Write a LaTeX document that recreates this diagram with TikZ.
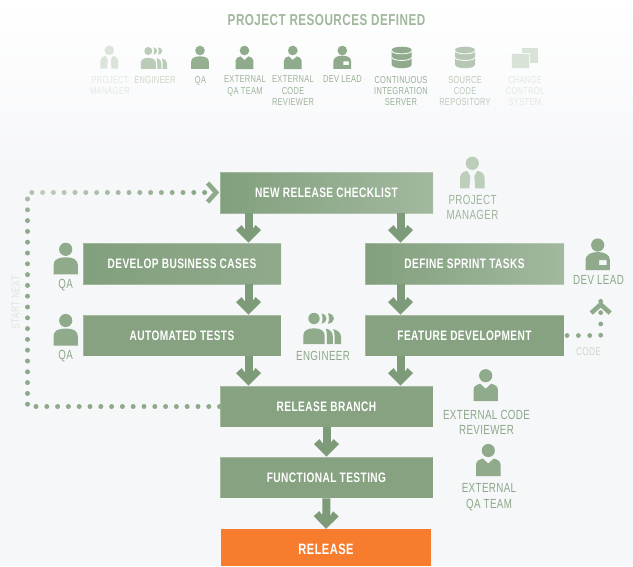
\documentclass[tikz,border=0pt]{standalone}
\usepackage{fontspec}
\setmainfont[FakeStretch=0.74,LetterSpace=3]{Liberation Sans}
\usetikzlibrary{arrows.meta,decorations.markings,calc}
\definecolor{boxg}{HTML}{86A281}
\definecolor{boxd}{HTML}{82A07D}
\definecolor{boxl}{HTML}{A2B89F}
\definecolor{arrg}{HTML}{7E9B79}
\definecolor{dotg}{HTML}{8FA98B}
\definecolor{labg}{HTML}{8DA78A}
\definecolor{icong}{HTML}{8FAB8B}
\definecolor{relo}{HTML}{F77C2D}
\definecolor{bgc}{HTML}{F6F7F9}
\pgfdeclarearrow{name=Chev,
  setup code={\pgfarrowssettipend{0pt}\pgfarrowssetlineend{-13pt}\pgfarrowssetvisualbackend{-17.5pt}\pgfarrowssetbackend{-17.5pt}},
  drawing code={
    \pgfpathmoveto{\pgfpoint{0pt}{0pt}}
    \pgfpathlineto{\pgfpoint{-12.5pt}{12.5pt}}
    \pgfpathlineto{\pgfpoint{-17.5pt}{7pt}}
    \pgfpathlineto{\pgfpoint{-13.5pt}{4pt}}
    \pgfpathlineto{\pgfpoint{-13.5pt}{-4pt}}
    \pgfpathlineto{\pgfpoint{-17.5pt}{-7pt}}
    \pgfpathlineto{\pgfpoint{-12.5pt}{-12.5pt}}
    \pgfpathclose\pgfusepathqfill}}
\pgfdeclarearrow{name=OpenChev,
  setup code={\pgfarrowssettipend{0pt}\pgfarrowssetlineend{-10pt}\pgfarrowssetvisualbackend{-12pt}\pgfarrowssetbackend{-12pt}},
  drawing code={
    \pgfsetdash{}{0pt}\pgfsetlinewidth{4.6pt}\pgfsetmiterjoin\pgfsetbuttcap
    \pgfpathmoveto{\pgfpoint{-12pt}{9.5pt}}
    \pgfpathlineto{\pgfpoint{-3.5pt}{0pt}}
    \pgfpathlineto{\pgfpoint{-12pt}{-9.5pt}}
    \pgfusepathqstroke}}
\tikzset{
  x=1pt,y=-1pt,
  flowbox/.style={minimum width=#1,minimum height=41pt,inner sep=0pt,draw=white,draw opacity=.25,line width=.8pt,text=white,font=\fontsize{13.7}{15}\selectfont\bfseries},
  flowbox/.default=198pt,
  grad/.style={shade,shading angle=#1,left color=boxd,middle color=boxg,right color=boxl},
  softgrad/.style={shade,shading angle=90,left color=boxd,right color=boxg!92!white},
  flat/.style={fill=boxg},
  flowarrow/.style={color=arrg,line width=8pt,-{Chev}},
  dotconn/.style={color=dotg,line width=.1pt,dash pattern=on 0pt off 1000pt,-{OpenChev}},
  lab/.style={align=center,text=labg,font=\fontsize{13.2}{15.5}\selectfont},
  toplab/.style={align=center,anchor=north,font=\fontsize{10.1}{11.3}\selectfont},
  sidelab/.style={font=\fontsize{11.2}{12}\selectfont},
  fadedots/.style={decoration={markings,mark=between positions 0pt and 585pt step 10.8pt with {
    \pgfkeysgetvalue{/pgf/decoration/mark info/sequence number}\sq
    \pgfmathsetmacro\mx{\sq<36?100:(\sq<40?100-(\sq-36)*10:(60+(\sq-40)*2.9))}
    \fill[dotg!\mx!white] (0,0) circle (2.5pt);}},postaction={decorate}},
  codedots/.style={decoration={markings,mark=between positions 2.7pt and 1 step 11.3pt with {\fill[dotg] (0,0) circle (2.4pt);}},postaction={decorate}},
  pics/person/.style={code={
    \fill[#1] (0,0) circle (6.6);
    \fill[#1] (-12.2,25) -- (-12.2,16) .. controls (-12.2,10) and (-7,8) .. (0,8) .. controls (7,8) and (12.2,10) .. (12.2,16) -- (12.2,25) -- cycle;}},
  pics/extperson/.style={code={
    \fill[#1] (0,0) circle (6.6);
    \fill[#1] (-12.2,25.5) -- (-12.2,14) .. controls (-12.2,10.5) and (-9,9) .. (-5.5,8) -- (0,13) -- (5.5,8) .. controls (9,9) and (12.2,10.5) .. (12.2,14) -- (12.2,25.5) -- cycle;}},
  pics/devlead/.style={code={
    \fill[#1] (0,0) circle (6.6);
    \fill[#1,even odd rule] (-12.2,25) -- (-12.2,15) .. controls (-12.2,10) and (-7,7) .. (0,7) .. controls (7,7) and (12.2,10) .. (12.2,15) -- (12.2,25) -- cycle (1.3,15) rectangle (9,20);}},
  pics/manager/.style={code={
    \fill[#1] (0,0) circle (6.6);
    \fill[#1] (-12.2,25) -- (-12.2,14) .. controls (-12.2,10) and (-8,8) .. (-5,7.5) -- (-2,13) -- (-3,25) -- cycle;
    \fill[#1] (12.2,25) -- (12.2,14) .. controls (12.2,10) and (8,8) .. (5,7.5) -- (2,13) -- (3,25) -- cycle;}},
  pics/engineer/.style={code={
    \fill[#1] (0,0) circle (5.7);
    \fill[#1] (-10.7,25.5) -- (-10.7,17) .. controls (-10.7,12) and (-6,9.8) .. (0,9.8) .. controls (6,9.8) and (10.7,12) .. (10.7,17) -- (10.7,25.5) -- cycle;
    \fill[#1] (7.6,-5.3) .. controls (10.5,-5) and (12.5,-2.5) .. (12.5,0) .. controls (12.5,2.5) and (10.5,5) .. (7.6,5.3) .. controls (8.8,2) and (8.8,-2) .. (7.6,-5.3) -- cycle;
    \fill[#1] (14,-5.3) .. controls (17.5,-5) and (20,-2.5) .. (20,0) .. controls (20,2.5) and (17.5,5) .. (14,5.3) .. controls (15.2,2) and (15.2,-2) .. (14,-5.3) -- cycle;
    \fill[#1] (11.8,10) .. controls (16,11) and (18.8,13.5) .. (18.8,18) -- (18.8,25.5) -- (12.8,25.5) -- (12.8,17) .. controls (12.8,14) and (12.5,12) .. (11.8,10) -- cycle;
    \fill[#1] (19,10.5) .. controls (24,12) and (27,14) .. (27,18.5) -- (27,25.5) -- (20.6,25.5) -- (20.6,17) .. controls (20.6,14) and (20,12) .. (19,10.5) -- cycle;}},
  pics/dbstack/.style={code={
    \fill[#1] (-10,0) .. controls (-10,-4.4) and (10,-4.4) .. (10,0) -- (10,14.5) .. controls (10,19.4) and (-10,19.4) .. (-10,14.5) -- cycle;
    \foreach \yy in {0.6,7.2}{
      \draw[bgc,line width=.9pt] (-10,\yy) .. controls (-10,\yy+4.3) and (10,\yy+4.3) .. (10,\yy);}}},
  pics/squares/.style={code={
    \fill[#1] (-3.3,-3.7) rectangle (13.3,11.3);
    \fill[bgc] (-14.3,1.3) rectangle (5.3,17);
    \fill[#1] (-13.3,2.3) rectangle (4.3,16.3);}}
}
\begin{document}
\begin{tikzpicture}
\useasboundingbox (0,0) rectangle (633,566);
\shade[top color=white,bottom color=bgc] (0,0) rectangle (633,170);
\fill[bgc] (0,170) rectangle (633,566);

\node[font=\fontsize{15.8}{17}\selectfont\bfseries,text=icong!85!white] (title) at (326.5,20) {PROJECT RESOURCES DEFINED};

% top icon row
\pic[scale=.73] at (109.3,50.3) {manager={icong!32!white}};
\pic[scale=.7] at (148.3,51) {engineer={icong!62!white}};
\pic[scale=.73] at (200,50.5) {person={icong!95!white}};
\pic[scale=.73] at (244.5,50.5) {extperson={icong}};
\pic[scale=.73] at (292.8,50.5) {extperson={icong}};
\pic[scale=.73] at (342.3,50.5) {devlead={icong}};
\pic at (401.7,50) {dbstack={icong}};
\pic at (465,50) {dbstack={icong!65!white}};
\pic at (525,52) {squares={icong!35!white}};

\node[toplab,text=labg!25!white] (t1) at (110,72.5) {PROJECT\\MANAGER};
\node[toplab,text=labg!45!white] (t2) at (155,72.5) {ENGINEER};
\node[toplab,text=labg!85!white] (t3) at (200.5,72.5) {QA};
\node[toplab,text=labg!85!white] (t4) at (245,72.5) {EXTERNAL\\QA TEAM};
\node[toplab,text=labg!85!white] (t5) at (293,72.5) {EXTERNAL\\CODE\\REVIEWER};
\node[toplab,text=labg!90!white] (t6) at (342.5,72.5) {DEV LEAD};
\node[toplab,text=labg!90!white] (t7) at (401,72.5) {CONTINUOUS\\INTEGRATION\\SERVER};
\node[toplab,text=labg!60!white] (t8) at (465,72.5) {SOURCE\\CODE\\REPOSITORY};
\node[toplab,text=labg!25!white] (t9) at (525,72.5) {CHANGE\\CONTROL\\SYSTEM};

% boxes
\node[flowbox=213pt,grad=50] (chk) at (326.5,192.5) {NEW RELEASE CHECKLIST};
\node[flowbox=198pt,softgrad] (biz) at (182,263.5) {DEVELOP BUSINESS CASES};
\node[flowbox=198pt,flat] (aut) at (182,335.5) {AUTOMATED TESTS};
\node[flowbox=199pt,grad=60] (spr) at (464.5,263.5) {DEFINE SPRINT TASKS};
\node[flowbox=199pt,flat] (fea) at (464.5,335.5) {FEATURE DEVELOPMENT};
\node[flowbox=213pt,flat] (rel) at (326.5,406.5) {RELEASE BRANCH};
\node[flowbox=213pt,flat] (fun) at (326.5,477.5) {FUNCTIONAL TESTING};
\node[minimum width=210pt,minimum height=37pt,inner sep=0pt,fill=relo,text=white,font=\fontsize{15}{17}\selectfont\bfseries] (out) at (326,547.5) {\raisebox{-6.8pt}[0pt][0pt]{RELEASE}};

% flow arrows
\draw[flowarrow] ($(chk.south west)+(29,0)$) -- ($(biz.north west)+(166,0)$);
\draw[flowarrow] ($(chk.south west)+(181,0)$) -- ($(spr.north west)+(36,0)$);
\draw[flowarrow] ($(biz.south west)+(166,0)$) -- ($(aut.north west)+(166,0)$);
\draw[flowarrow] ($(spr.south west)+(36,0)$) -- ($(fea.north west)+(36,0)$);
\draw[flowarrow] ($(aut.south west)+(166,0)$) -- ($(rel.north west)+(29,0)$);
\draw[flowarrow] ($(fea.south west)+(36,0)$) -- ($(rel.north west)+(181,0)$);
\draw[flowarrow] (rel.south) -- (fun.north);
\draw[flowarrow] (fun.south) -- (out.north);

% dotted connectors
\coordinate (corner) at (27.5,406.5);
\draw[dotconn,fadedots] (rel.west) -- (corner) |- (chk.west);
\coordinate (codeup) at (600.7,301);
\draw[dotconn,codedots] (fea.east) -- (fea.east -| codeup) -- (codeup);

% side labels
\node[sidelab,text=labg!30!white,rotate=90] (startnext) at (15.5,302.5) {START NEXT};
\node[sidelab,text=labg!45!white] (code) at (588.5,352) {CODE};

% main icons
\pic at (65.7,249.3) {person={icong}};
\node[lab] (q1) at (65.7,285) {QA};
\pic at (65.7,320.5) {person={icong}};
\node[lab] (q2) at (65.7,356.5) {QA};
\pic at (472.3,163.3) {manager={icong!60!white}};
\node[lab,text=labg!85!white] (pm) at (472.5,207.5) {PROJECT\\MANAGER};
\pic at (597.7,245) {devlead={icong}};
\node[lab] (dl) at (598.5,280) {DEV LEAD};
\pic at (314,318.5) {engineer={icong}};
\node[lab] (en) at (323,355.5) {ENGINEER};
\pic at (485.7,375.7) {extperson={icong}};
\node[lab] (cr) at (486.5,422.5) {EXTERNAL CODE\\REVIEWER};
\pic at (488.3,450.5) {extperson={icong}};
\node[lab] (qt) at (489,497) {EXTERNAL\\QA TEAM};
\end{tikzpicture}
\end{document}
